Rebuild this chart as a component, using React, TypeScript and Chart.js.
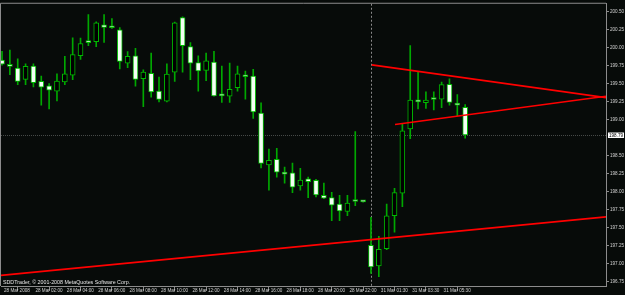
import React, { useEffect, useRef } from "react";
import { Chart, registerables } from "chart.js";

Chart.register(...registerables);

// ---- data (30-minute candles, bar index 0..59) ----
const OPEN = [199.830, 199.743, 199.719, 199.564, 199.747, 199.536, 199.472, 199.399, 199.527, 199.623,
  199.894, 200.073, 200.087, 200.321, 200.280, 200.252, 199.788, 199.889, 199.572, 199.646,
  199.399, 199.261, 199.664, 200.422, 200.018, 199.798, 199.688, 199.802, 199.334, 199.330,
  199.448, 199.623, 199.609, 199.096, 198.374, 198.453, 198.270, 198.264, 198.081, 198.182,
  198.160, 197.953, 197.920, 197.829, 197.727, 197.865, 197.861, 197.255, 196.970, 197.210,
  197.668, 197.981, 198.876, 199.251, 199.238, 199.283, 199.289, 199.495, 199.206, 199.173];
const HIGH = [199.953, 199.971, 199.847, 199.779, 199.779, 199.609, 199.503, 199.641, 199.885, 200.142,
  200.137, 200.463, 200.362, 200.463, 200.408, 200.284, 199.949, 199.995, 199.696, 199.930,
  199.596, 199.779, 200.360, 200.431, 200.073, 199.889, 199.930, 199.953, 199.747, 199.788,
  199.747, 199.678, 199.702, 199.238, 198.595, 198.604, 198.343, 198.398, 198.325, 198.205,
  198.175, 198.122, 197.994, 197.953, 197.953, 198.838, 197.866, 197.645, 197.383, 197.829,
  198.050, 198.939, 200.032, 199.664, 199.389, 199.389, 199.527, 199.572, 199.352, 199.214];
const LOW = [199.761, 199.627, 199.490, 199.490, 199.458, 199.206, 199.151, 199.265, 199.490, 199.558,
  199.839, 200.032, 200.018, 200.077, 200.270, 199.710, 199.724, 199.468, 199.183, 199.316,
  199.251, 199.251, 199.536, 199.664, 199.558, 199.399, 199.545, 199.330, 199.242, 199.242,
  199.399, 199.289, 199.021, 198.333, 198.022, 198.205, 198.122, 197.989, 198.022, 197.920,
  197.930, 197.905, 197.599, 197.599, 197.668, 197.806, 197.856, 196.866, 196.819, 197.196,
  197.438, 197.792, 198.738, 199.151, 199.159, 199.137, 199.169, 199.206, 199.059, 198.746];
const CLOSE = [199.774, 199.743, 199.536, 199.743, 199.517, 199.454, 199.412, 199.540, 199.641, 199.908,
  200.059, 200.073, 200.349, 200.284, 200.280, 199.812, 199.885, 199.564, 199.664, 199.389,
  199.283, 199.637, 200.349, 200.032, 199.788, 199.682, 199.820, 199.334, 199.334, 199.426,
  199.641, 199.600, 199.110, 198.394, 198.439, 198.274, 198.246, 198.063, 198.164, 198.140,
  197.957, 197.912, 197.815, 197.733, 197.843, 197.865, 197.861, 196.956, 197.200, 197.668,
  197.989, 198.848, 199.275, 199.251, 199.275, 199.283, 199.490, 199.242, 199.206, 198.790];

const TIME_TICKS = [0, 4, 8, 12, 16, 20, 24, 28, 32, 36, 40, 44, 48, 52, 56];
const TIME_LABELS = ["28 Mar 2008", "28 Mar 02:00", "28 Mar 04:00", "28 Mar 06:00", "28 Mar 08:00",
  "28 Mar 10:00", "28 Mar 12:00", "28 Mar 14:00", "28 Mar 16:00", "28 Mar 18:00", "28 Mar 20:00",
  "28 Mar 22:00", "31 Mar 01:30", "31 Mar 03:30", "31 Mar 05:30"];
const PRICE_TICKS = [200.5, 200.25, 200.0, 199.75, 199.5, 199.25, 199.0, 198.5, 198.25, 198.0,
  197.75, 197.5, 197.25, 197.0, 196.75];
const BID = 198.79;
const SEPARATOR_BAR = 47;
const TREND_UPPER = [[47.1, 199.765], [76.94, 199.309]];
const TREND_LOWER = [[50.06, 198.935], [76.94, 199.328]];
const TREND_BASE = [[-0.13, 196.839], [76.94, 197.652]];
const COPYRIGHT = "SDDTrader, © 2001-2008 MetaQuotes Software Corp.";

// ---- view ----
const X_MIN = -0.13;
const X_MAX = 76.94;
const Y_MIN = 196.691;
const Y_MAX = 200.614;
const BG = "#070b09";
const FRAME = "#8c8c8c";
const TEXT = "#d2d2d2";
const FONT = '"Liberation Sans", Arial, sans-serif';
const FS = 4.6;
const FS_NOTE = 5.3;

const overlayPlugin = {
  id: "mtOverlay",
  beforeDraw(chart: any) {
    const ctx = chart.ctx;
    ctx.save();
    ctx.fillStyle = BG;
    ctx.fillRect(0, 0, chart.width, chart.height);
    ctx.restore();
  },
  beforeDatasetsDraw(chart: any) {
    const { ctx, chartArea, scales } = chart;
    const { left, right, top, bottom } = chartArea;
    ctx.save();
    const by = Math.round(scales.y.getPixelForValue(BID)) + 0.5;
    ctx.strokeStyle = "#464a48";
    ctx.lineWidth = 1;
    ctx.setLineDash([1, 1]);
    ctx.beginPath();
    ctx.moveTo(left, by);
    ctx.lineTo(right, by);
    ctx.stroke();
    const sx = Math.round(scales.x.getPixelForValue(SEPARATOR_BAR)) + 0.5;
    ctx.strokeStyle = "#8a8a8a";
    ctx.setLineDash([2, 2]);
    ctx.beginPath();
    ctx.moveTo(sx, top);
    ctx.lineTo(sx, bottom);
    ctx.stroke();
    ctx.restore();
  },
  afterDraw(chart: any) {
    const { ctx, chartArea, scales } = chart;
    const { left, right, top, bottom } = chartArea;
    ctx.save();
    // frame top & left
    ctx.strokeStyle = FRAME;
    ctx.lineWidth = 1;
    ctx.beginPath();
    ctx.moveTo(left - 0.5, bottom);
    ctx.lineTo(left - 0.5, top - 0.5);
    ctx.lineTo(right, top - 0.5);
    ctx.stroke();
    // copyright
    ctx.fillStyle = "#e6e6e6";
    ctx.font = `${FS_NOTE}px ${FONT}`;
    ctx.textBaseline = "middle";
    ctx.textAlign = "left";
    ctx.fillText(COPYRIGHT, left + 2, bottom - 3.5);
    // bid label
    const by = scales.y.getPixelForValue(BID);
    ctx.font = `${FS}px ${FONT}`;
    ctx.fillStyle = "#ffffff";
    ctx.fillRect(right + 2, Math.round(by) - 2.5, 16, 5.5);
    ctx.fillStyle = "#000000";
    ctx.fillText(BID.toFixed(2), right + 3, by + 0.4);
    ctx.restore();
  },
};

export default function App() {
  const ref = useRef<HTMLCanvasElement>(null);
  useEffect(() => {
    const idx = OPEN.map((_, i) => i);
    const bodies = idx.map((i) => ({ x: i, y: [OPEN[i], CLOSE[i]] }));
    const wicks = idx.map((i) => ({ x: i, y: [LOW[i], HIGH[i]] }));
    const bodyFill = idx.map((i) => (CLOSE[i] > OPEN[i] ? "#000000" : "#f4fff4"));
    const toPts = (a: number[][]) => a.map(([x, y]) => ({ x, y }));
    const line = (a: number[][]) => ({
      type: "line" as const,
      data: toPts(a),
      borderColor: "#ff0000",
      borderWidth: 1.6,
      pointRadius: 0,
      order: -1,
    });
    const chart = new Chart(ref.current!, {
      type: "bar",
      data: {
        datasets: [
          {
            data: bodies as any,
            backgroundColor: bodyFill,
            borderColor: "#00b800",
            borderWidth: 1,
            borderSkipped: false,
            barThickness: 5,
            minBarLength: 2,
            grouped: false,
            order: 0,
          } as any,
          {
            data: wicks as any,
            backgroundColor: "#00a800",
            borderWidth: 0,
            barThickness: 1,
            grouped: false,
            order: 1,
          } as any,
          line(TREND_UPPER) as any,
          line(TREND_LOWER) as any,
          line(TREND_BASE) as any,
        ],
      },
      options: {
        responsive: false,
        animation: false,
        devicePixelRatio: 1,
        layout: { padding: { left: 1, top: 1, right: 0, bottom: 0 } },
        plugins: { legend: { display: false }, tooltip: { enabled: false } },
        scales: {
          x: {
            type: "linear",
            min: X_MIN,
            max: X_MAX,
            offset: false,
            afterBuildTicks: (s: any) => {
              s.ticks = TIME_TICKS.map((v) => ({ value: v }));
            },
            afterFit: (s: any) => {
              s.height = 9;
            },
            grid: { display: true, drawOnChartArea: false, drawTicks: true, tickLength: 5, color: FRAME },
            border: { display: true, color: FRAME },
            ticks: {
              autoSkip: false,
              maxRotation: 0,
              minRotation: 0,
              align: "start",
              padding: -3,
              labelOffset: 2,
              color: TEXT,
              font: { size: FS, family: FONT },
              callback: (v: any) => TIME_LABELS[TIME_TICKS.indexOf(Number(v))] ?? "",
            },
          },
          y: {
            type: "linear",
            position: "right",
            min: Y_MIN,
            max: Y_MAX,
            afterBuildTicks: (s: any) => {
              s.ticks = PRICE_TICKS.map((v) => ({ value: v }));
            },
            afterFit: (s: any) => {
              s.width = 19;
            },
            grid: { display: true, drawOnChartArea: false, drawTicks: true, tickLength: 3, color: FRAME },
            border: { display: true, color: FRAME },
            ticks: {
              autoSkip: false,
              padding: 1,
              color: TEXT,
              font: { size: FS, family: FONT },
              callback: (v: any) => Number(v).toFixed(2),
            },
          },
        },
      } as any,
      plugins: [overlayPlugin],
    });
    return () => chart.destroy();
  }, []);
  return (
    <div style={{ position: "fixed", left: 0, top: 0, width: 625, height: 295, background: BG }}>
      <canvas ref={ref} width={625} height={295} style={{ display: "block" }} />
    </div>
  );
}
